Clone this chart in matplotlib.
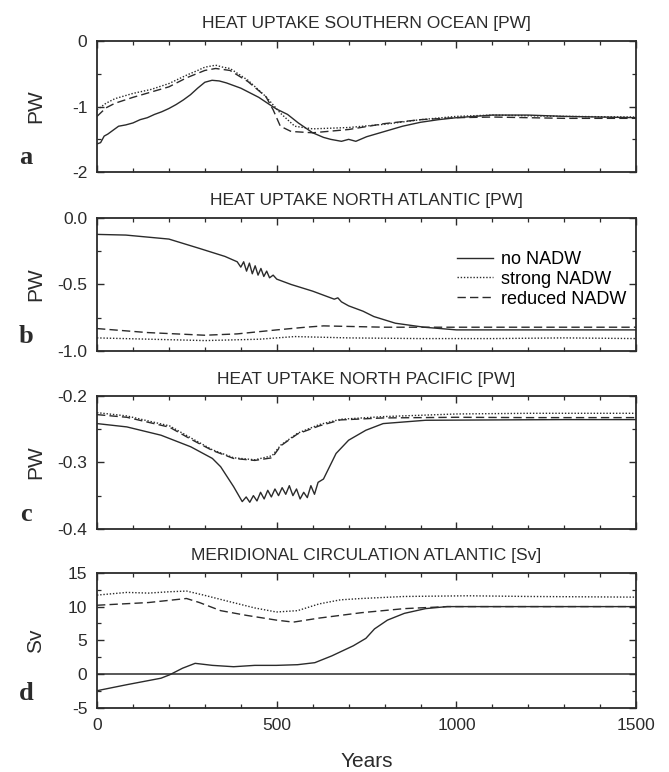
import matplotlib
matplotlib.use("Agg")
import matplotlib.pyplot as plt
from matplotlib.ticker import MultipleLocator, FormatStrFormatter

# ---------------------------------------------------------------- data
# (a) heat uptake Southern Ocean [PW]
a_no_x = [0, 10, 20, 30, 40, 60, 80, 100, 120, 140, 160, 180, 200, 220, 240, 260, 280,
          300, 320, 340, 360, 400, 450, 480, 500, 530, 560, 600, 630, 650, 680, 700,
          720, 750, 800, 850, 900, 950, 1000, 1100, 1200, 1300, 1400, 1500]
a_no_y = [-1.57, -1.55, -1.45, -1.42, -1.38, -1.3, -1.28, -1.25, -1.2, -1.17, -1.12,
          -1.08, -1.03, -0.97, -0.9, -0.82, -0.72, -0.63, -0.6, -0.61, -0.64, -0.72,
          -0.86, -0.97, -1.04, -1.12, -1.25, -1.4, -1.47, -1.5, -1.53, -1.5, -1.53,
          -1.46, -1.38, -1.3, -1.24, -1.2, -1.17, -1.13, -1.13, -1.15, -1.16, -1.17]
a_strong_x = [0, 25, 50, 100, 150, 200, 250, 280, 300, 330, 350, 370, 420, 470, 510,
              550, 600, 700, 800, 900, 1000, 1100, 1200, 1300, 1500]
a_strong_y = [-1.05, -0.95, -0.88, -0.8, -0.74, -0.65, -0.52, -0.45, -0.4, -0.37,
              -0.4, -0.42, -0.6, -0.85, -1.1, -1.3, -1.34, -1.32, -1.27, -1.2, -1.15,
              -1.13, -1.14, -1.15, -1.16]
a_red_x = [0, 25, 50, 100, 150, 200, 250, 300, 330, 370, 420, 470, 490, 510, 540,
           600, 700, 800, 900, 1000, 1100, 1200, 1300, 1500]
a_red_y = [-1.15, -1.02, -0.95, -0.86, -0.78, -0.7, -0.56, -0.45, -0.42, -0.45,
           -0.62, -0.85, -1.05, -1.3, -1.38, -1.4, -1.35, -1.26, -1.2, -1.17, -1.16,
           -1.17, -1.18, -1.18]

# (b) heat uptake North Atlantic [PW]
b_no_x = [0, 80, 200, 285, 356, 390, 400, 408, 416, 424, 432, 440, 448, 456, 464,
          472, 480, 490, 500, 540, 600, 640, 660, 670, 680, 700, 740, 770, 830, 910,
          1000, 1100, 1200, 1300, 1500]
b_no_y = [-0.125, -0.13, -0.16, -0.23, -0.29, -0.33, -0.37, -0.33, -0.4, -0.34,
          -0.42, -0.36, -0.43, -0.38, -0.44, -0.4, -0.45, -0.43, -0.46, -0.5, -0.55,
          -0.59, -0.61, -0.6, -0.63, -0.66, -0.7, -0.74, -0.79, -0.82, -0.84, -0.84,
          -0.84, -0.84, -0.84]
b_strong_x = [0, 150, 300, 450, 550, 700, 900, 1100, 1300, 1500]
b_strong_y = [-0.9, -0.91, -0.92, -0.91, -0.89, -0.9, -0.905, -0.905, -0.9, -0.905]
b_red_x = [0, 140, 300, 390, 500, 580, 630, 800, 1000, 1200, 1500]
b_red_y = [-0.83, -0.86, -0.88, -0.87, -0.84, -0.82, -0.81, -0.82, -0.82, -0.82, -0.82]

# (c) heat uptake North Pacific [PW]
c_no_x = [0, 83, 178, 261, 321, 344, 380, 404, 415, 425, 435, 445, 455, 465, 475,
          485, 495, 505, 515, 525, 535, 545, 555, 565, 575, 585, 595, 605, 615, 630,
          665, 700, 748, 796, 914, 1100, 1300, 1500]
c_no_y = [-0.2415, -0.2465, -0.259, -0.2765, -0.294, -0.3065, -0.3365, -0.359,
          -0.352, -0.36, -0.35, -0.358, -0.345, -0.355, -0.342, -0.352, -0.34, -0.35,
          -0.338, -0.348, -0.335, -0.35, -0.34, -0.355, -0.345, -0.353, -0.335,
          -0.348, -0.33, -0.325, -0.2865, -0.2665, -0.2515, -0.2415, -0.2365,
          -0.236, -0.2355, -0.2355]
c_strong_x = [0, 83, 202, 261, 321, 380, 439, 487, 511, 558, 618, 677, 796, 1000,
              1200, 1500]
c_strong_y = [-0.225, -0.23, -0.245, -0.263, -0.281, -0.293, -0.296, -0.29, -0.274,
              -0.256, -0.243, -0.235, -0.231, -0.227, -0.226, -0.226]
c_red_x = [0, 83, 202, 261, 321, 380, 439, 487, 511, 558, 618, 677, 796, 1000,
           1200, 1500]
c_red_y = [-0.228, -0.232, -0.247, -0.265, -0.282, -0.294, -0.297, -0.293, -0.275,
           -0.257, -0.245, -0.236, -0.233, -0.232, -0.2325, -0.2325]

# (d) meridional circulation Atlantic [Sv]
d_no_x = [0, 83, 178, 202, 238, 273, 321, 380, 439, 499, 558, 606, 653, 713, 748,
          772, 808, 855, 914, 974, 1100, 1300, 1500]
d_no_y = [-2.45, -1.56, -0.6, -0.1, 0.88, 1.6, 1.3, 1.1, 1.3, 1.3, 1.4, 1.7, 2.7,
          4.2, 5.3, 6.7, 8.0, 9.0, 9.7, 10.0, 10.0, 10.0, 10.0]
d_strong_x = [0, 83, 143, 202, 249, 297, 356, 439, 499, 558, 618, 677, 736, 855,
              1033, 1200, 1500]
d_strong_y = [11.7, 12.1, 12.0, 12.2, 12.3, 11.7, 10.9, 9.8, 9.2, 9.4, 10.4, 11.0,
              11.2, 11.5, 11.6, 11.5, 11.4]
d_red_x = [0, 143, 249, 285, 344, 416, 499, 546, 618, 736, 855, 974, 1200, 1500]
d_red_y = [10.2, 10.6, 11.2, 10.6, 9.4, 8.7, 8.0, 7.7, 8.3, 9.1, 9.7, 10.0, 10.0, 10.0]

titles = ["HEAT UPTAKE SOUTHERN OCEAN [PW]", "HEAT UPTAKE NORTH ATLANTIC [PW]",
          "HEAT UPTAKE NORTH PACIFIC [PW]", "MERIDIONAL CIRCULATION ATLANTIC [Sv]"]
letters = ["a", "b", "c", "d"]
units = ["PW", "PW", "PW", "Sv"]
legend_labels = ["no NADW", "strong NADW", "reduced NADW"]

# ---------------------------------------------------------------- style
INK = "#2b2b2b"
SOLID = dict(color=INK, lw=1.0, ls="-")
DOT = dict(color=INK, lw=1.0, ls=(0, (1, 1.3)))
DASH = dict(color=INK, lw=1.0, ls=(0, (6, 3)))

plt.rcParams["font.family"] = ["Liberation Sans", "DejaVu Sans"]

fig = plt.figure(figsize=(6.69, 7.72), dpi=100)
boxes = [(0.145, 0.777, 0.806, 0.170), (0.145, 0.545, 0.806, 0.173),
         (0.145, 0.315, 0.806, 0.172), (0.145, 0.083, 0.806, 0.175)]
ylims = [(-2, 0), (-1.0, 0.0), (-0.4, -0.2), (-5, 15)]
ymaj = [1, 0.5, 0.1, 5]
yfmt = ["%g", "%.1f", "%.1f", "%g"]
series = [
    [(a_no_x, a_no_y), (a_strong_x, a_strong_y), (a_red_x, a_red_y)],
    [(b_no_x, b_no_y), (b_strong_x, b_strong_y), (b_red_x, b_red_y)],
    [(c_no_x, c_no_y), (c_strong_x, c_strong_y), (c_red_x, c_red_y)],
    [(d_no_x, d_no_y), (d_strong_x, d_strong_y), (d_red_x, d_red_y)],
]

for i, box in enumerate(boxes):
    ax = fig.add_axes(box)
    lines = []
    for (x, y), st, lab in zip(series[i], (SOLID, DOT, DASH), legend_labels):
        ln, = ax.plot(x, y, label=lab, **st)
        lines.append(ln)
    if i == 3:
        ax.axhline(0, color=INK, lw=1.1)
    ax.set_xlim(0, 1500)
    ax.set_ylim(*ylims[i])
    ax.xaxis.set_major_locator(MultipleLocator(500))
    ax.xaxis.set_minor_locator(MultipleLocator(100))
    ax.yaxis.set_major_locator(MultipleLocator(ymaj[i]))
    ax.yaxis.set_minor_locator(MultipleLocator(ymaj[i] / 2))
    ax.yaxis.set_major_formatter(FormatStrFormatter(yfmt[i]))
    ax.tick_params(which="both", direction="in", top=True, right=True,
                   colors=INK, labelsize=12.5, pad=7)
    ax.tick_params(which="major", length=5, width=1.0)
    ax.tick_params(which="minor", length=3, width=0.9)
    if i < 3:
        ax.tick_params(labelbottom=False)
    for s in ax.spines.values():
        s.set_color(INK)
        s.set_linewidth(1.3)
    ax.set_title(titles[i], fontsize=12.5, pad=9, color=INK)
    fig.text(36 / 669, box[1] + box[3] / 2, units[i], rotation=90, ha="center",
             va="center", fontsize=15, color=INK)
    fig.text(26 / 669, box[1] + 0.004, letters[i], ha="center", va="bottom",
             fontsize=19, fontweight="bold", family="Liberation Serif", color=INK)
    if i == 1:
        ax.legend(handles=lines, loc="upper left", bbox_to_anchor=(0.668, 0.75),
                  frameon=False, fontsize=13, handlelength=2.0, handletextpad=0.45,
                  labelspacing=0.15, borderpad=0, borderaxespad=0)

fig.text((97 + 636) / 2 / 669, 0.013, "Years", ha="center", va="center",
         fontsize=15, color=INK)

fig.savefig("out.png", dpi=100, facecolor="white")
